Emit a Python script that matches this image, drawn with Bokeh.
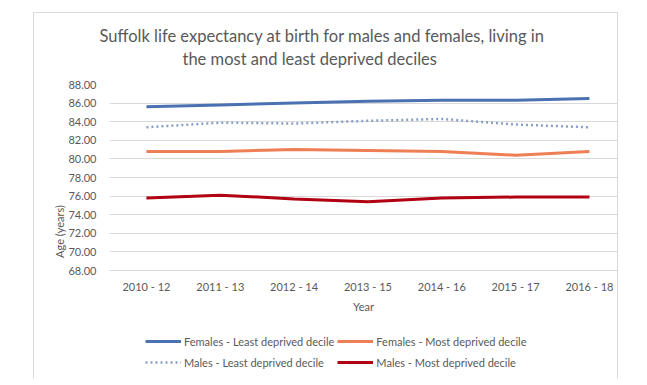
from bokeh.plotting import figure
from bokeh.models import Range1d, FixedTicker, Legend, LegendItem, Title
from bokeh.core.properties import value
from bokeh.embed import file_html
from bokeh.resources import INLINE

periods = ["2010 - 12", "2011 - 13", "2012 - 14", "2013 - 15", "2014 - 16", "2015 - 17", "2016 - 18"]
females_least = [85.6, 85.8, 86.0, 86.2, 86.3, 86.3, 86.5]
females_most = [80.8, 80.8, 81.0, 80.9, 80.8, 80.4, 80.8]
males_least = [83.4, 83.9, 83.8, 84.1, 84.3, 83.7, 83.4]
males_most = [75.8, 76.1, 75.7, 75.4, 75.8, 75.9, 75.9]
y_ticks = [68, 70, 72, 74, 76, 78, 80, 82, 84, 86, 88]
title_lines = ["Suffolk life expectancy at birth for males and females, living in",
               "the most and least deprived deciles"]
x_title = "Year"
y_title = "Age (years)"

FONT = "Lato"
GREY = "#595959"
xs = list(range(len(periods)))

# frame extends below the value area so the legend can sit inside it
Y_MIN, Y_MAX = 68, 88
PX_PER_UNIT = 9.3
FRAME_H = 294
y_bottom = Y_MAX - FRAME_H / PX_PER_UNIT

p = figure(frame_width=508, frame_height=FRAME_H, output_backend="svg", toolbar_location=None,
           x_range=Range1d(-0.5, 6.38), y_range=Range1d(y_bottom, Y_MAX),
           min_border_left=75, min_border_right=0, min_border_top=71, min_border_bottom=0,
           outline_line_color=None, margin=(12, 0, 0, 33),
           styles={"border-top": "1px solid #d9d9d9", "border-left": "1px solid #d9d9d9",
                   "border-right": "1px solid #d9d9d9", "border-bottom": "1px solid transparent"})

p.title.text = title_lines[0]
p.title.align = "left"
p.title.offset = -10
p.title.text_font = FONT
p.title.text_font_size = "16.5px"
p.title.text_font_style = "normal"
p.title.text_color = GREY
p.title.standoff = -29
t2 = Title(text=title_lines[1], align="left", offset=73, text_font=FONT, text_font_size="16.5px",
           text_font_style="normal", text_color=GREY, standoff=31)
p.add_layout(t2, "above")

r1 = p.line(xs, females_least, line_color="#4A72B2", line_width=3)
r2 = p.line(xs, females_most, line_color="#EE7F55", line_width=3)
r3 = p.line(xs, males_least, line_color="#8A9FC6", line_width=2.5, line_dash="2 3")
r4 = p.line(xs, males_most, line_color="#B00012", line_width=3)

# category labels and x title, placed under the value area
tick_label_y = Y_MIN - 16 / PX_PER_UNIT
x_title_y = Y_MIN - 36 / PX_PER_UNIT
p.text(x=xs, y=[tick_label_y] * len(xs), text=periods, text_font=value(FONT), text_font_size="11px",
       text_color=GREY, text_align="center", text_baseline="middle")
p.text(x=[(-0.5 + 6.38) / 2], y=[x_title_y], text=[x_title], text_font=value(FONT), text_font_size="11px",
       text_color=GREY, text_align="center", text_baseline="middle")

p.xaxis.visible = False
p.yaxis.ticker = FixedTicker(ticks=y_ticks)
p.yaxis.major_label_overrides = {t: f"{t:.2f}" for t in y_ticks}
p.yaxis.axis_line_color = None
p.yaxis.major_tick_line_color = None
p.yaxis.minor_tick_line_color = None
p.yaxis.major_label_text_font = FONT
p.yaxis.major_label_text_font_size = "11px"
p.yaxis.major_label_text_color = GREY
p.yaxis.axis_label = y_title
p.yaxis.axis_label_text_font = FONT
p.yaxis.axis_label_text_font_size = "11px"
p.yaxis.axis_label_text_font_style = "normal"
p.yaxis.axis_label_text_color = GREY
p.yaxis.major_label_standoff = 7
p.yaxis.axis_label_standoff = -1

p.xgrid.grid_line_color = None
p.ygrid.grid_line_color = "#d9d9d9"
p.ygrid.grid_line_width = 1

legend = Legend(items=[
    LegendItem(label="Females - Least deprived decile", renderers=[r1]),
    LegendItem(label="Males - Least deprived decile", renderers=[r3]),
    LegendItem(label="Females - Most deprived decile", renderers=[r2]),
    LegendItem(label="Males - Most deprived decile", renderers=[r4]),
], ncols=2, location=(36, 7), border_line_color=None, background_fill_alpha=0,
    glyph_width=36, glyph_height=14, label_standoff=3, spacing=3, padding=0, margin=0,
    label_text_font=FONT, label_text_font_size="11px", label_text_color=GREY, label_height=18)
p.add_layout(legend, "center")

open("out.html", "w").write(file_html(p, INLINE))
